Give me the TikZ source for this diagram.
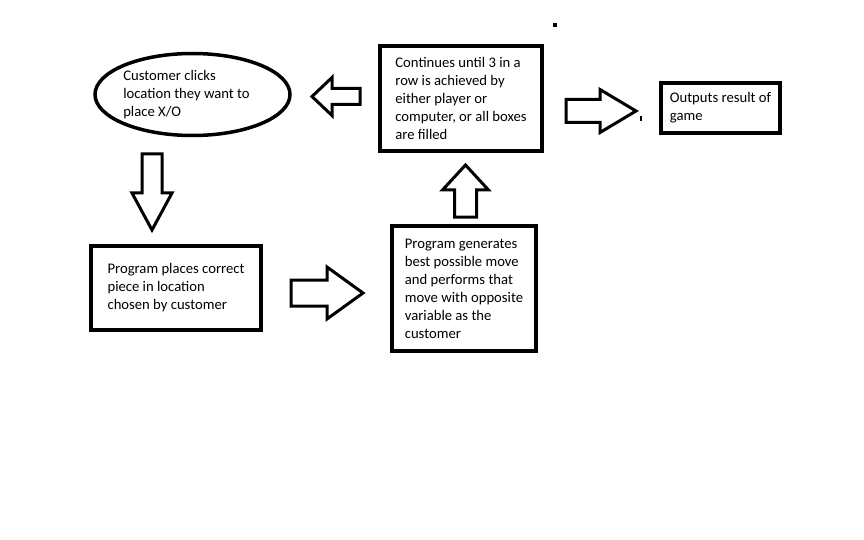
\documentclass[tikz,border=0pt]{standalone}
\usepackage{fontspec}
\setmainfont{Carlito}
\usetikzlibrary{shapes.geometric, positioning}

\tikzset{
	stepbox/.style={draw, line width=3.5pt, rectangle, align=left, inner sep=0pt,
		font=\fontsize{14.67}{18}\selectfont},
	clickoval/.style={stepbox, ellipse, inner xsep=-6pt},
	arrowline/.style={line width=3pt, line join=miter, fill=white},
	% shaft half width / head half width / head back / length
	pics/fatarrow/.style args={#1/#2/#3/#4}{code={
		\draw[arrowline] (0,-#1) -- (#3,-#1) -- (#3,-#2) -- (#4,0) -- (#3,#2) -- (#3,#1) -- (0,#1) -- cycle;
	}}
}

\begin{document}
\begin{tikzpicture}[x=1pt, y=-1pt]
	\useasboundingbox[fill=white] (0,0) rectangle (864,540);

	\node[clickoval, minimum width=195, minimum height=82] (cust) at (192.5,94.5) {Customer clicks\\location they want to\hspace*{12pt}\mbox{}\\place X/O};
	\node[stepbox, minimum width=162, minimum height=105] (cont) at (461,98.5) {Continues until 3 in a\\row is achieved by\\either player or\\computer, or all boxes\\are filled};
	\node[stepbox, minimum width=119, minimum height=50] (result) at (720.5,108) {Outputs result of\\game};
	\node[stepbox, minimum width=170, minimum height=84] (place) at (176,288) {Program places correct\\piece in location\\chosen by customer};
	\node[stepbox, minimum width=144, minimum height=125] (gen) at (464,288.5) {Program generates\\best possible move\\and performs that\\move with opposite\\variable as the\\customer};

	% block arrows
	\pic[rotate=180] at (360,96.5) {fatarrow=8/19/28/48};
	\pic at (566,111) {fatarrow=11.5/21.5/34/70};
	\pic[rotate=-90] at (152,154) {fatarrow=10/20/39/76};
	\pic at (291,293) {fatarrow=13/26/36/72};
	\pic[rotate=90] at (465.5,217) {fatarrow=11/23/27/52};

	% stray marks
	\fill (553,23) rectangle (557,27);
	\fill (640,116) rectangle (642,121);
\end{tikzpicture}
\end{document}
